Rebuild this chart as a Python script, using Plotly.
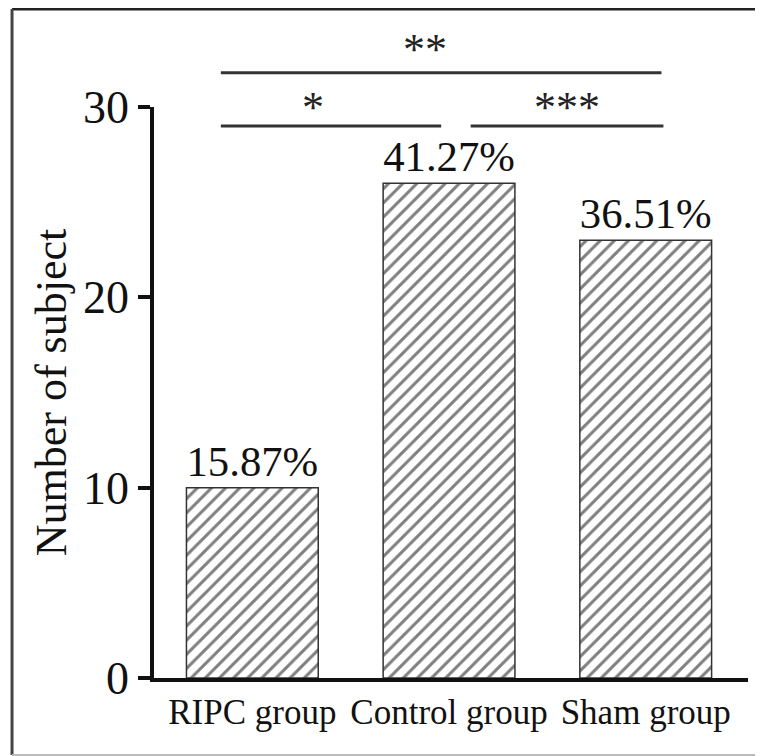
import plotly.graph_objects as go

categories = ["RIPC group", "Control group", "Sham group"]
counts = [10, 26, 23]
pct_labels = ["15.87%", "41.27%", "36.51%"]
y_ticks = [0, 10, 20, 30]

# significance brackets
brackets_x0 = [-0.16, -0.16, 1.11]
brackets_x1 = [2.08, 0.96, 2.09]
brackets_y = [31.8, 29.0, 29.0]
brackets_lab = ["**", "*", "***"]
brackets_lab_x = [0.88, 0.31, 1.6]
brackets_lab_y = [33.0, 30.0, 30.0]

FONT = "Liberation Serif"
YMAX = 30

fig = go.Figure()
fig.add_trace(go.Bar(
    x=categories,
    y=counts,
    width=0.67,
    marker=dict(
        color="white",
        line=dict(color="#333333", width=1.5),
        pattern=dict(shape="/", fgcolor="#000000", bgcolor="white", size=10, solidity=0.3),
    ),
    text=pct_labels,
    textposition="outside",
    cliponaxis=False,
    textfont=dict(family=FONT, size=43, color="#111111"),
    showlegend=False,
))


def ypaper(v):
    return v / YMAX


shapes = []
annotations = []
for x0, x1, yv, lab, lx, ly in zip(brackets_x0, brackets_x1, brackets_y, brackets_lab, brackets_lab_x, brackets_lab_y):
    shapes.append(dict(type="line", xref="x", yref="paper", x0=x0, x1=x1,
                       y0=ypaper(yv), y1=ypaper(yv), line=dict(color="#333333", width=3)))
    annotations.append(dict(xref="x", yref="paper", x=lx, y=ypaper(ly), text=lab, showarrow=False,
                            font=dict(family=FONT, size=44, color="#222222"),
                            xanchor="center", yanchor="middle"))

# figure frame
shapes += [
    dict(type="line", xref="paper", yref="paper", x0=-0.239, x1=1.1, y0=1.1716, y1=1.1716,
         line=dict(color="#222222", width=3)),
    dict(type="line", xref="paper", yref="paper", x0=-0.239, x1=-0.239, y0=1.1716, y1=-0.135,
         line=dict(color="#444444", width=3)),
    dict(type="line", xref="paper", yref="paper", x0=-0.239, x1=1.1, y0=-0.135, y1=-0.135,
         line=dict(color="#bbbbbb", width=2)),
]

fig.update_layout(
    width=755, height=748,
    margin=dict(l=146, r=15, t=99, b=78),
    paper_bgcolor="white", plot_bgcolor="white",
    shapes=shapes,
    annotations=annotations,
    font=dict(family=FONT, color="#111111"),
)
fig.update_xaxes(
    range=[-0.5, 2.52],
    showline=True, linecolor="#111111", linewidth=4,
    ticks="", showgrid=False, zeroline=False,
    tickfont=dict(family=FONT, size=35, color="#111111"),
)
fig.update_yaxes(
    range=[0, YMAX],
    tickvals=y_ticks,
    showline=True, linecolor="#111111", linewidth=3.5,
    ticks="outside", ticklen=12, tickwidth=3.5, tickcolor="#111111",
    showgrid=False, zeroline=False,
    tickfont=dict(family=FONT, size=46, color="#111111"),
    title=dict(text="Number of subject", font=dict(family=FONT, size=44, color="#111111"), standoff=4),
)

fig.write_html("out.html")
